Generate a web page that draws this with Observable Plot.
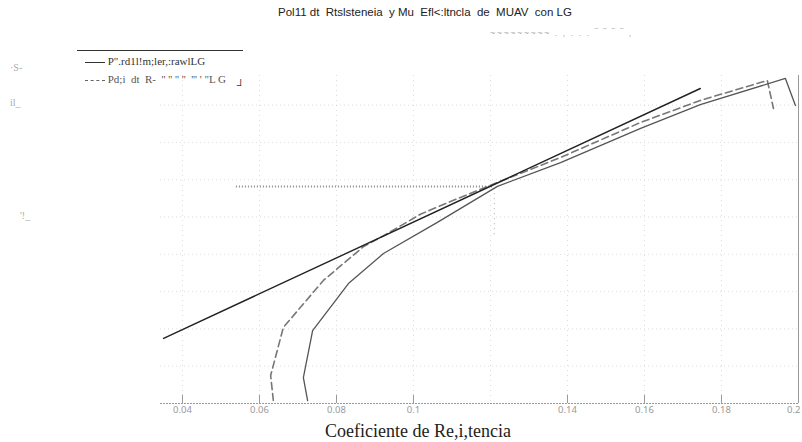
<!DOCTYPE html>
<html>
<head>
<meta charset="utf-8">
<script src="https://cdn.jsdelivr.net/npm/d3@7"></script>
<script src="https://cdn.jsdelivr.net/npm/@observablehq/plot@0.6"></script>
<style>
  html, body { margin: 0; padding: 0; background: #fff; }
  #wrap { position: relative; width: 802px; height: 442px; overflow: hidden; }
  .t { position: absolute; white-space: nowrap; }
  #title { left: 0; width: 850px; top: 6px; text-align: center; font: 11.5px "Liberation Sans Narrow", "Liberation Sans", sans-serif; color: #222; }
  #noise { left: 490px; top: 28px; font: 9px "Liberation Sans", sans-serif; color: #aaa; letter-spacing: 1.5px; }
  #legend { left: 77px; top: 50px; width: 166px; height: 40px; border-top: 1px solid #333; font: 11px "Liberation Serif", serif; color: #333; }
  #xlabel { left: 0; width: 836px; top: 421px; text-align: center; font: 18px "Liberation Serif", serif; color: #222; }
  .ylab { font: 10px "Liberation Serif", serif; color: #aaa; }
</style>
</head>
<body>
<div id="wrap">
  <div id="chart"></div>
  <div class="t" id="title">Pol11 dt&nbsp; Rtslsteneia&nbsp; y Mu&nbsp; Efl&lt;:ltncla&nbsp; de&nbsp; MUAV&nbsp; con LG</div>
  <div class="t" id="noise">~~~~~~~~~ . , . . . ‾ ‾ ‾ ‾ ,</div>
  <div class="t" id="legend">
    <div style="position:absolute;left:8px;top:4px;"><span style="display:inline-block;width:20px;border-top:1px solid #333;vertical-align:middle;"></span> P".rd1l!m;ler,:rawlLG</div>
    <div style="position:absolute;left:8px;top:22px;color:#555;"><span style="display:inline-block;width:20px;border-top:1px dashed #666;vertical-align:middle;"></span> Pd;i&nbsp; dt&nbsp; R-&nbsp; '' '' '' ''&nbsp; ''' ' "L G</div>
    <div style="position:absolute;left:160px;top:28px;font-weight:bold;">┘</div>
  </div>
  <div class="t ylab" style="left:10px;top:62px;">·S-</div>
  <div class="t ylab" style="left:10px;top:97px;">il_</div>
  <div class="t ylab" style="left:20px;top:210px;">'!_</div>
  <div class="t" id="xlabel">Coeficiente de Re,i,tencia</div>
</div>
<script>
// Tick labels on the x axis (0.12 is not printed in the reference)
const xTicks = [0.04, 0.06, 0.08, 0.1, 0.14, 0.16, 0.18, 0.2];
const xGrid = [0.04, 0.06, 0.08, 0.1, 0.12, 0.14, 0.16, 0.18, 0.2];
const yGrid = [0.2, 0.4, 0.6, 0.8, 1.0, 1.2, 1.4, 1.6];

// Polar with LG (solid grey): CD, CL
const polarCD = [0.0725, 0.0714, 0.0738, 0.0831, 0.0922, 0.1062, 0.1218, 0.1382, 0.1590, 0.1745, 0.1966, 0.1992];
const polarCL = [0.016, 0.139, 0.391, 0.643, 0.804, 0.971, 1.164, 1.292, 1.475, 1.603, 1.743, 1.598];

// Second polar (dashed)
const polar2CD = [0.0636, 0.0629, 0.0662, 0.0766, 0.0870, 0.0927, 0.1018, 0.1122, 0.1218, 0.1382, 0.1590, 0.1745, 0.1919, 0.1935];
const polar2CL = [0.016, 0.150, 0.408, 0.660, 0.841, 0.905, 1.015, 1.105, 1.185, 1.319, 1.507, 1.625, 1.732, 1.582];

// Max efficiency tangent line (black)
const tangentCD = [0.0351, 0.1745];
const tangentCL = [0.349, 1.689];

// Max efficiency marker (dotted)
const maxEffCD = 0.121;
const maxEffCL = 1.163;
const markerStartCD = 0.054;
const markerLowCL = 0.905;

const polar = polarCD.map((x, i) => ({x, y: polarCL[i]}));
const polar2 = polar2CD.map((x, i) => ({x, y: polar2CL[i]}));
const tangent = tangentCD.map((x, i) => ({x, y: tangentCL[i]}));
const ticksMain = xTicks.slice(0, -1);
const ticksLast = xTicks.slice(-1);

const chart = Plot.plot({
  width: 802,
  height: 442,
  marginTop: 75,
  marginBottom: 39,
  marginLeft: 160,
  marginRight: 4,
  x: {domain: [0.03429, 0.2]},
  y: {domain: [0, 1.7587], axis: null},
  style: {background: "white"},
  marks: [
    Plot.ruleY(yGrid, {stroke: "#bbb", strokeOpacity: 0.5, strokeDasharray: "1,3"}),
    Plot.ruleX(xGrid, {stroke: "#bbb", strokeOpacity: 0.5, strokeDasharray: "1,4"}),
    Plot.ruleY([maxEffCL], {x1: markerStartCD, x2: maxEffCD, stroke: "#888", strokeWidth: 2, strokeDasharray: "1,2"}),
    Plot.ruleX([maxEffCD], {y1: markerLowCL, y2: maxEffCL, stroke: "#aaa", strokeDasharray: "1,4"}),
    Plot.ruleX([0.2], {y1: 0, y2: 1.7587, stroke: "#999"}),
    Plot.ruleY([0], {stroke: "#999", strokeDasharray: "2,1"}),
    Plot.ruleX(xTicks, {y1: 0, y2: 0.045, stroke: "#999"}),
    Plot.axisX(ticksMain, {tickFormat: d => String(d), tickSize: 0, tickPadding: 3, fill: "#999", fontSize: 9.5, label: null}),
    Plot.axisX(ticksLast, {tickFormat: d => String(d), tickSize: 0, tickPadding: 3, fill: "#999", fontSize: 9.5, textAnchor: "end", dx: 2, label: null}),
    Plot.line(polar2, {x: "x", y: "y", stroke: "#777", strokeWidth: 1.6, strokeDasharray: "7,4"}),
    Plot.line(polar, {x: "x", y: "y", stroke: "#555", strokeWidth: 1.3}),
    Plot.line(tangent, {x: "x", y: "y", stroke: "#222", strokeWidth: 1.4})
  ]
});
document.getElementById("chart").appendChild(chart);
</script>
</body>
</html>
